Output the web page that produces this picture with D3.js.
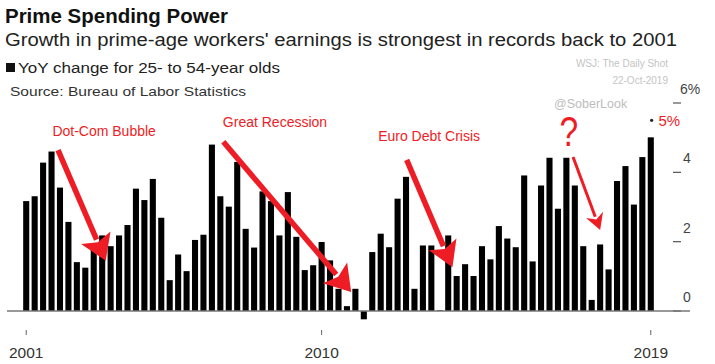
<!DOCTYPE html>
<html>
<head>
<meta charset="utf-8">
<script src="https://cdn.jsdelivr.net/npm/d3@7/dist/d3.min.js"></script>
<style>
  html, body { margin: 0; padding: 0; background: #fff; }
  svg { display: block; font-family: "Liberation Sans", Arial, Helvetica, sans-serif; }
</style>
</head>
<body>
<svg id="chart" width="715" height="364"></svg>
<script>
// ---------------- DATA ----------------
const quarters = [
  "2001Q1","2001Q2","2001Q3","2001Q4","2002Q1","2002Q2","2002Q3","2002Q4",
  "2003Q1","2003Q2","2003Q3","2003Q4","2004Q1","2004Q2","2004Q3","2004Q4",
  "2005Q1","2005Q2","2005Q3","2005Q4","2006Q1","2006Q2","2006Q3","2006Q4",
  "2007Q1","2007Q2","2007Q3","2007Q4","2008Q1","2008Q2","2008Q3","2008Q4",
  "2009Q1","2009Q2","2009Q3","2009Q4","2010Q1","2010Q2","2010Q3","2010Q4",
  "2011Q1","2011Q2","2011Q3","2011Q4","2012Q1","2012Q2","2012Q3","2012Q4",
  "2013Q1","2013Q2","2013Q3","2013Q4","2014Q1","2014Q2","2014Q3","2014Q4",
  "2015Q1","2015Q2","2015Q3","2015Q4","2016Q1","2016Q2","2016Q3","2016Q4",
  "2017Q1","2017Q2","2017Q3","2017Q4","2018Q1","2018Q2","2018Q3","2018Q4",
  "2019Q1","2019Q2","2019Q3"
];
const yoyChange = [
  3.17, 3.31, 4.28, 4.60, 3.56, 2.57, 1.41, 1.25,
  1.83, 2.18, 1.87, 2.18, 2.48, 3.53, 3.20, 3.81,
  2.69, 0.89, 1.63, 1.15, 2.05, 2.20, 4.80, 3.31,
  3.01, 4.30, 2.37, 1.83, 3.45, 3.17, 2.18, 3.43,
  2.14, 1.18, 1.32, 1.99, 1.46, 0.64, 0.14, 0.64,
  -0.24, 1.70, 2.23, 1.84, 3.24, 3.87, 0.64, 1.89,
  1.89, 0.02, 2.18, 1.01, 1.35, 1.01, 1.87, 1.49,
  2.45, 2.09, 1.84, 3.91, 1.43, 3.62, 4.42, 2.95,
  4.42, 3.62, 1.87, 0.32, 1.92, 1.20, 3.75, 4.18,
  3.07, 4.44, 5.01
];
const xTickLabels = ["2001", "2010", "2019"];
const xTickQuarters = ["2001Q1", "2009Q4", "2019Q3"];
const yTickValues = [0, 2, 4, 6];
const yTickLabels = ["0", "2", "4", "6%"];

// annotations (positions in data space: fractional quarter index, value)
const annotLabels = ["Dot-Com Bubble", "Great Recession", "Euro Debt Crisis"];
const annotLabelPos = [[3.1, 5.05], [23.3, 5.3], [41.7, 4.9]];
const arrows = [
  { from: [3.77, 4.64], to: [9.42, 1.45], w: 5.5, hl: 25, hw: 16 },
  { from: [23.35, 4.88], to: [38.5, 0.55], w: 5.5, hl: 25, hw: 16 },
  { from: [45.08, 4.36], to: [50.5, 1.26], w: 5.5, hl: 25, hw: 15 },
  { from: [64.79, 4.44], to: [68.0, 2.34], w: 3, hl: 16, hw: 9 }
];

// ---------------- CHART ----------------
const svg = d3.select("#chart");
const red = "#ee1c25";

const x = d3.scaleBand().domain(quarters).range([22, 655]).paddingInner(0.28).paddingOuter(0.14);
const y = d3.scaleLinear().domain([0, 6]).range([311, 103]);
const xi = d3.scaleLinear().domain([0, quarters.length - 1])
  .range([x(quarters[0]) + x.bandwidth() / 2, x(quarters[quarters.length - 1]) + x.bandwidth() / 2]);

// Header text
svg.append("text").attr("x", 5).attr("y", 23)
  .attr("font-size", 20).attr("font-weight", "bold").attr("fill", "#111")
  .attr("textLength", 223).attr("lengthAdjust", "spacingAndGlyphs")
  .text("Prime Spending Power");
svg.append("text").attr("x", 5).attr("y", 46)
  .attr("font-size", 17.5).attr("fill", "#222")
  .attr("textLength", 672).attr("lengthAdjust", "spacingAndGlyphs")
  .text("Growth in prime-age workers' earnings is strongest in records back to 2001");
svg.append("rect").attr("x", 6).attr("y", 63).attr("width", 9).attr("height", 9).attr("fill", "#111");
svg.append("text").attr("x", 18).attr("y", 73)
  .attr("font-size", 14).attr("fill", "#222")
  .attr("textLength", 262).attr("lengthAdjust", "spacingAndGlyphs")
  .text("YoY change for 25- to 54-year olds");
svg.append("text").attr("x", 10).attr("y", 96)
  .attr("font-size", 13.5).attr("fill", "#333")
  .attr("textLength", 236).attr("lengthAdjust", "spacingAndGlyphs")
  .text("Source: Bureau of Labor Statistics");

// Watermarks
svg.append("text").attr("x", 668).attr("y", 67).attr("text-anchor", "end")
  .attr("font-size", 10).attr("fill", "#c4c4c4").text("WSJ: The Daily Shot");
svg.append("text").attr("x", 668).attr("y", 84).attr("text-anchor", "end")
  .attr("font-size", 10).attr("fill", "#c4c4c4").text("22-Oct-2019");
svg.append("text").attr("x", 554).attr("y", 108)
  .attr("font-size", 12.5).attr("fill", "#bdbdbd").text("@SoberLook");

// Right axis
const yAxis = svg.append("g");
yAxis.selectAll("line").data(yTickValues).join("line")
  .attr("x1", 673).attr("x2", 681)
  .attr("y1", d => y(d)).attr("y2", d => y(d))
  .attr("stroke", "#555").attr("stroke-width", 1.2);
yAxis.selectAll("text").data(yTickValues).join("text")
  .attr("x", (d, i) => i === 3 ? 680 : 683)
  .attr("y", d => y(d) - 9)
  .attr("font-size", 14).attr("fill", "#444")
  .text((d, i) => yTickLabels[i]);

// Bars
svg.append("g").selectAll("rect").data(yoyChange).join("rect")
  .attr("x", (d, i) => x(quarters[i]))
  .attr("width", x.bandwidth())
  .attr("y", d => y(Math.max(0, d)))
  .attr("height", d => Math.abs(y(d) - y(0)))
  .attr("fill", "#000");

// Baseline
svg.append("line").attr("x1", 7).attr("x2", 690)
  .attr("y1", y(0)).attr("y2", y(0))
  .attr("stroke", "#777").attr("stroke-width", 1.3);

// X axis ticks
const xAxis = svg.append("g");
xAxis.selectAll("line").data(xTickQuarters).join("line")
  .attr("x1", d => x(d) + x.bandwidth() / 2).attr("x2", d => x(d) + x.bandwidth() / 2)
  .attr("y1", 330).attr("y2", 335)
  .attr("stroke", "#666").attr("stroke-width", 1);
xAxis.selectAll("text").data(xTickQuarters).join("text")
  .attr("x", d => x(d) + x.bandwidth() / 2)
  .attr("y", 358).attr("text-anchor", "middle")
  .attr("font-size", 15.5).attr("fill", "#333")
  .text((d, i) => xTickLabels[i]);

// Annotations
svg.append("g").selectAll("text").data(annotLabels).join("text")
  .attr("x", (d, i) => xi(annotLabelPos[i][0]))
  .attr("y", (d, i) => y(annotLabelPos[i][1]))
  .attr("font-size", 14).attr("fill", red)
  .text(d => d);

const ag = svg.append("g");
arrows.forEach(a => {
  const x0 = xi(a.from[0]), y0 = y(a.from[1]);
  const x1 = xi(a.to[0]), y1 = y(a.to[1]);
  const dx = x1 - x0, dy = y1 - y0, L = Math.hypot(dx, dy);
  const ux = dx / L, uy = dy / L, px = -uy, py = ux;
  const bx = x1 - ux * a.hl, by = y1 - uy * a.hl;
  ag.append("line").attr("x1", x0).attr("y1", y0)
    .attr("x2", bx + ux * 2).attr("y2", by + uy * 2)
    .attr("stroke", red).attr("stroke-width", a.w);
  ag.append("path")
    .attr("d", `M${x1},${y1}L${bx + px * a.hw},${by + py * a.hw}L${bx + ux * 5},${by + uy * 5}L${bx - px * a.hw},${by - py * a.hw}Z`)
    .attr("fill", red);
});

// Question mark and latest value label
svg.append("text").attr("x", xi(64.3)).attr("y", y(4.75))
  .attr("text-anchor", "middle").attr("font-size", 42).attr("fill", red)
  .attr("transform", `translate(${xi(64.3)},0) scale(0.8,1) translate(${-xi(64.3)},0)`)
  .text("?");
svg.append("circle").attr("cx", xi(74.1)).attr("cy", y(5.5)).attr("r", 1.6).attr("fill", "#222");
svg.append("text").attr("x", xi(74.9)).attr("y", y(5.35))
  .attr("font-size", 15).attr("fill", red).text("5%");
</script>
</body>
</html>
